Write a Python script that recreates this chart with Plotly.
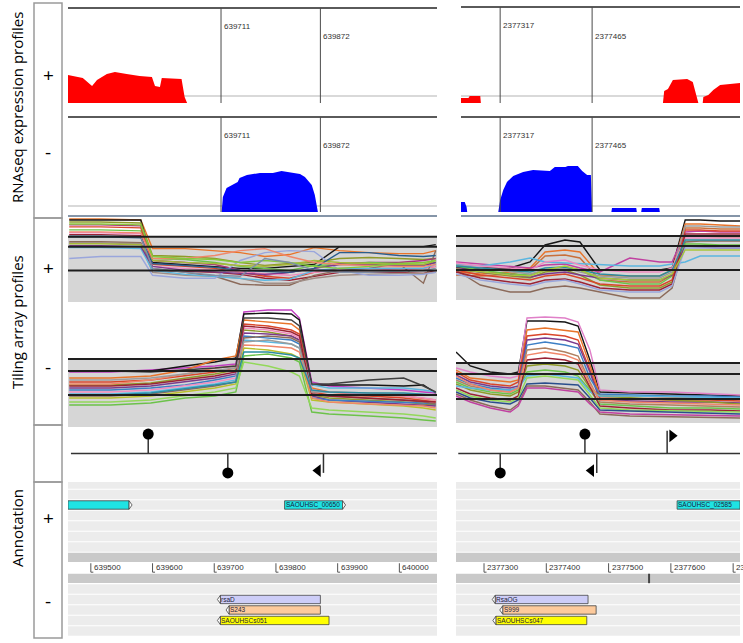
import plotly.graph_objects as go

# ======================= DATA =======================
# RNAseq coverage (reads) -- left locus (639463-640061)
rna_plus_left_x = [639463, 639487, 639502, 639510, 639526, 639539, 639558, 639579, 639599, 639604,
                   639612, 639615, 639647, 639652, 639656]
rna_plus_left_y = [280, 250, 170, 230, 290, 310, 290, 270, 260, 170, 160, 250, 240, 60, 0]
rna_minus_left_x = [639712, 639714, 639720, 639730, 639738, 639741, 639753, 639774, 639795, 639809,
                    639818, 639839, 639847, 639858, 639863, 639868]
rna_minus_left_y = [0, 150, 240, 270, 300, 340, 370, 390, 390, 410, 400, 380, 350, 270, 170, 0]
# RNAseq coverage -- right locus
rna_plus_right_x = [2377254, 2377266, 2377268, 2377285, 2377286, 2377579, 2377581, 2377587, 2377595,
                    2377618, 2377627, 2377634, 2377636, 2377643, 2377644, 2377652, 2377660, 2377671,
                    2377687, 2377695, 2377703]
rna_plus_right_y = [50, 50, 70, 70, 0, 0, 120, 140, 230, 240, 210, 60, 0, 0, 60, 80, 130, 180, 190, 200, 200]
rna_minus_right_x = [2377254, 2377260, 2377263, 2377264, 2377314, 2377317, 2377322, 2377328, 2377338,
                     2377354, 2377370, 2377397, 2377405, 2377422, 2377426, 2377442, 2377449, 2377457,
                     2377463, 2377465, 2377496, 2377497, 2377536, 2377537, 2377544, 2377545, 2377573,
                     2377574]
rna_minus_right_y = [100, 100, 50, 0, 0, 120, 220, 300, 360, 400, 420, 410, 450, 450, 460, 460, 410, 370,
                     370, 0, 0, 40, 40, 0, 0, 40, 40, 0]
rna_baseline_reads = [70, 60]            # plus, minus
rna_marks_left = [639711, 639872]
rna_marks_right = [2377317, 2377465]

# Tiling array profiles (log2 intensity) -- left locus, plus strand
tl_plus_x = [639465, 639516, 639581, 639600, 639653, 639701, 639742, 639782, 639822, 639862, 639903,
             639951, 639999, 640039, 640059]
tl_plus = [
    [13.4, 13.4, 13.3, 10.4, 10.4, 10.2, 10.0, 9.6, 9.8, 10.5, 10.2, 10.0, 9.9, 9.9, 10.2],
    [13.3, 13.3, 13.3, 9.0, 8.8, 8.6, 8.4, 8.4, 8.6, 8.8, 10.6, 10.6, 10.6, 10.6, 10.8],
    [13.1, 13.1, 13.0, 9.7, 9.6, 9.4, 9.0, 8.7, 8.9, 9.0, 9.4, 9.5, 9.4, 9.3, 9.4],
    [12.8, 12.8, 12.7, 9.2, 9.0, 8.8, 8.2, 7.7, 8.0, 8.4, 8.9, 9.0, 9.0, 9.2, 9.4],
    [12.3, 12.3, 12.2, 9.4, 9.3, 9.0, 8.6, 8.4, 8.2, 8.7, 8.8, 9.0, 8.9, 8.8, 9.0],
    [12.6, 12.6, 12.5, 8.8, 8.6, 8.4, 8.0, 7.6, 7.4, 8.0, 8.4, 8.4, 8.4, 8.4, 8.6],
    [12.0, 12.0, 11.9, 8.6, 8.4, 8.2, 8.1, 7.9, 7.7, 8.0, 8.2, 8.4, 8.2, 8.4, 8.6],
    [11.8, 11.8, 11.7, 8.2, 8.1, 8.0, 7.8, 7.4, 7.2, 7.6, 8.0, 8.0, 8.0, 7.9, 8.2],
    [11.1, 11.1, 11.0, 8.4, 8.0, 7.6, 6.8, 6.7, 6.7, 7.7, 8.2, 8.4, 8.9, 6.9, 10.2],
    [11.0, 11.0, 10.9, 8.0, 7.7, 7.6, 7.4, 6.9, 6.9, 7.4, 7.7, 7.8, 7.9, 7.9, 8.0],
    [10.5, 10.5, 10.4, 8.2, 7.8, 7.6, 7.4, 7.2, 7.3, 8.2, 8.4, 8.4, 8.4, 8.4, 8.8],
    [9.4, 9.6, 9.6, 7.7, 7.4, 7.4, 9.2, 10.0, 10.2, 10.1, 8.2, 7.7, 7.7, 7.8, 8.0],
    [10.7, 10.7, 10.6, 8.6, 8.2, 8.0, 7.9, 7.8, 8.0, 8.4, 8.8, 8.8, 8.7, 8.7, 9.0],
    [10.9, 10.9, 10.8, 9.2, 9.0, 8.9, 8.7, 8.6, 8.8, 9.2, 9.0, 8.9, 8.8, 8.8, 9.2],
    [11.6, 11.6, 11.5, 8.9, 8.7, 8.5, 8.2, 8.1, 8.0, 8.4, 10.0, 10.0, 9.7, 9.6, 9.7],
    [12.1, 12.1, 12.0, 9.4, 9.4, 9.7, 10.2, 10.4, 9.6, 9.0, 8.8, 8.7, 8.6, 8.6, 8.8],
    [12.9, 12.9, 12.8, 9.6, 9.4, 9.3, 9.0, 9.2, 9.0, 8.6, 8.4, 8.6, 8.9, 9.0, 9.2],
    [11.7, 11.7, 11.6, 8.4, 8.0, 7.7, 7.6, 9.4, 9.0, 8.2, 8.0, 8.0, 8.1, 8.2, 8.4],
]
tl_plus_thr = [11.6, 10.6, 8.2]

# left locus, minus strand
tl_minus_x = [639465, 639532, 639597, 639653, 639701, 639735, 639748, 639787, 639825, 639838, 639858,
              639886, 639951, 640007, 640039, 640059]
tl_minus = [
    [10.5, 10.5, 10.7, 10.9, 11.1, 11.3, 16.5, 16.7, 16.7, 15.9, 9.5, 9.1, 8.9, 8.7, 8.5, 8.4],
    [10.6, 10.6, 10.6, 11.1, 11.5, 11.9, 16.3, 16.4, 16.3, 15.7, 9.2, 9.2, 9.2, 9.1, 9.2, 8.4],
    [9.9, 9.9, 10.1, 10.7, 11.7, 12.1, 15.7, 15.5, 15.3, 14.7, 8.9, 8.5, 8.2, 8.1, 7.9, 7.7],
    [9.5, 9.5, 9.7, 10.1, 10.5, 10.9, 15.3, 15.1, 14.7, 14.3, 8.5, 8.2, 8.1, 7.9, 7.7, 7.5],
    [9.2, 9.2, 9.4, 9.9, 10.3, 10.7, 14.7, 14.5, 14.1, 13.7, 8.2, 7.9, 7.7, 7.5, 7.3, 7.2],
    [8.9, 8.9, 9.1, 9.5, 9.9, 10.3, 14.4, 14.3, 14.1, 13.7, 8.1, 7.7, 7.5, 7.3, 7.2, 7.1],
    [8.7, 8.7, 8.9, 9.2, 9.7, 10.1, 14.1, 13.9, 13.7, 13.3, 7.9, 7.7, 7.6, 7.5, 7.4, 7.3],
    [8.5, 8.5, 8.7, 9.1, 9.5, 9.9, 14.9, 14.7, 14.3, 13.9, 8.7, 8.5, 8.3, 8.1, 7.9, 7.7],
    [8.3, 8.3, 8.5, 8.9, 9.3, 9.7, 13.7, 13.5, 13.3, 12.9, 9.2, 8.9, 8.9, 8.9, 8.7, 8.5],
    [8.1, 8.1, 8.3, 8.7, 9.1, 9.5, 13.9, 14.1, 13.9, 13.5, 8.3, 8.1, 7.9, 7.7, 7.5, 7.3],
    [7.9, 7.9, 8.1, 8.5, 8.9, 9.3, 12.9, 12.7, 12.3, 11.9, 7.7, 7.5, 7.3, 7.1, 6.9, 6.7],
    [7.2, 7.2, 7.4, 7.9, 8.1, 8.5, 12.1, 12.3, 11.9, 11.5, 6.5, 6.3, 6.1, 5.9, 5.7, 5.6],
    [7.5, 7.5, 7.7, 8.1, 8.5, 8.9, 11.5, 11.1, 10.5, 10.1, 6.9, 6.7, 6.5, 6.3, 6.1, 5.9],
    [9.3, 9.3, 9.7, 10.3, 10.9, 11.1, 13.2, 13.1, 12.9, 12.5, 7.9, 7.5, 7.3, 7.2, 7.1, 6.9],
    [9.1, 9.1, 9.3, 9.7, 10.1, 10.5, 15.1, 14.9, 14.5, 14.1, 8.3, 8.1, 7.9, 7.7, 7.6, 7.5],
    [9.7, 9.7, 9.9, 10.3, 10.7, 10.9, 13.5, 13.7, 13.3, 12.9, 8.5, 8.5, 8.4, 8.3, 8.3, 8.2],
    [10.6, 10.6, 10.5, 10.7, 10.9, 11.1, 15.9, 15.9, 15.7, 15.1, 9.3, 9.3, 9.7, 9.9, 9.1, 8.5],
    [8.2, 8.2, 8.4, 8.8, 9.2, 9.5, 12.5, 12.5, 12.2, 11.9, 8.7, 8.5, 8.4, 8.4, 8.3, 8.2],
]
tl_minus_thr = [11.8, 10.6, 8.2]

# right locus, plus strand
tr_plus_x = [2377255, 2377294, 2377342, 2377374, 2377398, 2377430, 2377454, 2377486, 2377534, 2377582,
             2377602, 2377623, 2377647, 2377679, 2377711]
tr_plus = [
    [8.2, 8.2, 8.2, 8.8, 10.5, 11.0, 10.8, 8.0, 8.0, 8.0, 8.2, 13.0, 13.0, 12.9, 12.9],
    [7.8, 7.6, 7.8, 8.2, 9.8, 10.0, 9.8, 7.5, 7.4, 7.4, 8.0, 12.6, 12.6, 12.5, 12.4],
    [7.5, 7.4, 7.6, 8.0, 9.4, 9.5, 9.2, 7.0, 6.8, 6.8, 7.5, 12.2, 12.2, 12.1, 12.1],
    [8.8, 8.6, 8.4, 8.2, 8.5, 8.6, 8.2, 7.8, 9.2, 8.8, 8.8, 11.8, 11.9, 11.8, 11.8],
    [8.6, 8.4, 8.8, 9.2, 8.8, 8.7, 8.6, 8.5, 8.4, 8.4, 8.6, 8.8, 9.4, 9.4, 9.4],
    [8.0, 7.8, 7.4, 7.2, 7.8, 8.0, 7.5, 6.5, 6.2, 6.2, 6.8, 11.4, 11.4, 11.3, 11.3],
    [8.0, 6.5, 5.8, 5.8, 6.2, 6.4, 6.2, 5.8, 5.2, 5.2, 6.2, 10.8, 10.9, 10.9, 10.9],
    [8.4, 8.0, 7.6, 7.5, 8.0, 8.2, 8.0, 7.0, 6.6, 6.6, 7.4, 10.6, 10.6, 10.5, 10.5],
    [8.2, 7.8, 7.5, 7.3, 7.6, 7.8, 7.5, 7.2, 7.0, 7.0, 7.5, 10.4, 10.3, 10.2, 10.2],
    [8.0, 7.5, 7.2, 7.0, 7.4, 7.6, 7.2, 6.6, 6.4, 6.4, 7.0, 12.0, 12.0, 11.9, 11.9],
    [8.5, 8.2, 7.8, 7.6, 8.0, 8.2, 7.8, 7.4, 7.2, 7.2, 7.8, 12.4, 12.4, 12.3, 12.3],
    [8.7, 8.4, 8.2, 8.0, 8.8, 9.0, 8.5, 8.0, 7.8, 7.8, 8.2, 11.2, 11.2, 11.2, 11.2],
    [7.8, 7.2, 6.8, 6.6, 7.0, 7.1, 6.8, 6.2, 6.0, 6.0, 6.6, 11.6, 11.6, 11.6, 11.6],
    [8.4, 8.2, 8.0, 7.8, 8.2, 8.3, 8.0, 7.6, 7.4, 7.4, 8.0, 11.0, 11.0, 11.0, 11.0],
    [7.6, 7.0, 6.6, 6.4, 6.8, 7.0, 6.6, 6.0, 5.8, 5.8, 6.4, 10.2, 10.2, 10.2, 10.2],
    [8.1, 7.8, 7.5, 7.4, 8.0, 8.4, 8.0, 7.2, 7.0, 7.0, 7.6, 10.0, 10.0, 10.0, 10.0],
]
tr_plus_thr = [11.4, 10.4, 8.0]

# right locus, minus strand
tr_minus_x = [2377255, 2377278, 2377310, 2377342, 2377355, 2377369, 2377398, 2377430, 2377451, 2377470,
              2377486, 2377534, 2377599, 2377663, 2377711]
tr_minus = [
    [12.1, 10.7, 10.1, 9.9, 10.1, 15.2, 15.2, 15.1, 14.7, 11.3, 8.1, 8.0, 7.9, 7.8, 7.7],
    [10.5, 10.1, 9.7, 9.5, 9.7, 15.5, 15.6, 15.5, 15.1, 12.3, 8.3, 8.1, 8.1, 7.9, 7.8],
    [10.3, 9.5, 9.3, 9.1, 9.3, 14.3, 14.5, 14.3, 14.1, 10.8, 7.8, 7.7, 7.6, 7.5, 7.4],
    [10.1, 9.3, 8.9, 8.7, 9.1, 13.7, 13.9, 13.7, 13.3, 10.3, 7.5, 7.4, 7.3, 7.3, 7.2],
    [9.8, 9.1, 8.7, 8.5, 8.7, 13.3, 13.5, 13.3, 12.9, 10.1, 7.3, 7.2, 7.1, 7.1, 7.0],
    [9.5, 8.9, 8.5, 8.3, 8.5, 12.8, 13.1, 12.8, 12.5, 9.5, 7.9, 7.8, 7.7, 7.7, 7.6],
    [9.3, 8.7, 8.3, 8.1, 8.5, 12.3, 12.5, 12.1, 11.7, 9.1, 7.1, 6.9, 6.8, 6.7, 6.6],
    [9.1, 8.5, 8.1, 7.9, 8.3, 10.1, 10.3, 10.1, 9.7, 8.3, 6.9, 6.7, 6.5, 6.5, 6.4],
    [8.9, 8.3, 7.9, 7.7, 8.1, 10.7, 10.9, 10.7, 10.3, 8.5, 7.7, 7.5, 7.3, 7.1, 6.9],
    [8.7, 8.5, 8.3, 8.3, 8.5, 9.7, 9.9, 9.7, 9.5, 8.1, 7.7, 7.7, 7.6, 7.5, 7.5],
    [8.5, 7.9, 7.5, 7.3, 7.7, 11.3, 11.5, 11.3, 10.9, 8.7, 6.7, 6.5, 6.3, 6.3, 6.2],
    [8.3, 7.7, 7.3, 7.1, 7.5, 9.5, 9.7, 9.5, 9.3, 7.8, 6.5, 6.3, 6.2, 6.1, 6.1],
    [9.7, 8.9, 8.3, 8.1, 8.5, 11.8, 12.1, 11.8, 11.3, 8.9, 7.3, 7.1, 7.0, 6.9, 6.8],
    [8.1, 7.5, 7.1, 6.9, 7.3, 8.9, 9.0, 8.9, 8.8, 7.5, 6.3, 6.2, 6.1, 6.0, 5.9],
    [7.9, 7.3, 6.7, 6.3, 6.9, 8.7, 8.7, 8.5, 8.3, 7.1, 5.9, 5.7, 5.6, 5.5, 5.5],
    [7.7, 7.1, 6.5, 6.1, 6.7, 8.5, 8.5, 8.3, 8.1, 6.9, 6.1, 5.9, 5.8, 5.7, 5.7],
]
tr_minus_thr = [11.0, 9.9, 7.4]

# Regulatory features (position, strand, kind)
feat_left_pos = [639593, 639722, 639877]
feat_left_strand = [1, -1, -1]
feat_left_kind = ["circle", "circle", "triangle"]
feat_right_pos = [2377326, 2377462, 2377481, 2377594]
feat_right_strand = [-1, 1, -1, 1]
feat_right_kind = ["circle", "circle", "triangle", "flag"]

# Annotated genes
genes_left_name = ["", "SAOUHSC_00650", "rsaD", "S243", "SAOUHSCs051"]
genes_left_start = [639380, 639814, 639710, 639724, 639710]
genes_left_end = [639562, 639908, 639872, 639872, 639886]
genes_left_strand = ["+", "+", "-", "-", "-"]
genes_left_track = [2, 2, 11, 12, 13]
genes_left_source = ["cds", "cds", "srna", "segment", "ncrna"]

genes_right_name = ["SAOUHSC_02585", "RsaOG", "S999", "SAOUHSCs047"]
genes_right_start = [2377610, 2377318, 2377330, 2377319]
genes_right_end = [2377800, 2377467, 2377480, 2377465]
genes_right_strand = ["+", "-", "-", "-"]
genes_right_track = [2, 11, 12, 13]
genes_right_source = ["cds", "srna", "segment", "ncrna"]

ticks_left = [639500, 639600, 639700, 639800, 639900, 640000]
ticks_right = [2377300, 2377400, 2377500, 2377600, 2377700]
scale_marks_right = [2377565]

plus_tracks = [0, 1, 2, 3, 4, 5, 6]
minus_tracks = [10, 11, 12, 13, 14]
divider_tracks = [7, 9]
ruler_track = 8

# ======================= STYLE =======================
W, H = 743, 643
SOURCE_COLORS = {"cds": "#1fe3e3", "srna": "#cdcdf7", "segment": "#fdca9c", "ncrna": "#ffff00"}
TL_PLUS_COLORS = ["#e8742a", "#151515", "#8f9a2a", "#a8327a", "#6cc24a", "#d9462b", "#f08cc0", "#9b2335",
                  "#8b6a5a", "#a08e86", "#5bb6e0", "#9aa6dc", "#7b3a8c", "#a6b83a", "#2b5e8c", "#f0876a",
                  "#86c83c", "#7f8fa6"]
TL_MINUS_COLORS = ["#c040c0", "#151515", "#e8742a", "#d9462b", "#8f9a2a", "#7b3a8c", "#3d7fc4", "#f08cc0",
                   "#5bb6e0", "#8b6a5a", "#b8c02a", "#6cc24a", "#93d85a", "#f0876a", "#9b2335", "#9c9c9c",
                   "#404040", "#2b8ca0"]
TR_PLUS_COLORS = ["#151515", "#e8742a", "#c8703a", "#c040a0", "#5bb6e0", "#8f9a2a", "#8b6a5a", "#6cc24a",
                  "#7b3a8c", "#d9462b", "#9c9c9c", "#f08cc0", "#9b2335", "#2b8ca0", "#9aa6dc", "#a6c83a"]
TR_MINUS_COLORS = ["#151515", "#e080c8", "#e8742a", "#d9462b", "#7b3a8c", "#3d7fc4", "#b08060", "#6cc24a",
                   "#8f9a2a", "#5bb6e0", "#9b2335", "#93d85a", "#f0876a", "#2b4e8c", "#8b6a5a", "#c040a0"]


def xp(px):
    return px / W


def yp(px):
    return 1 - px / H


LEFT_X = [639463, 640061]
RIGHT_X = [2377255, 2377711]
RIGHT_RNA_X = [2377254, 2377703]
TRACK_RANGE = [14.67, -0.19]

AX = {
    1: dict(xd=(68, 437), yd=(8, 103), xr=LEFT_X, yr=[0, 950]),
    2: dict(xd=(68, 437), yd=(117, 212), xr=LEFT_X, yr=[0, 950]),
    3: dict(xd=(68, 437), yd=(218, 302), xr=LEFT_X, yr=[5, 13.5]),
    4: dict(xd=(68, 437), yd=(303, 427), xr=LEFT_X, yr=[5, 17.4]),
    5: dict(xd=(68, 437), yd=(425, 482), xr=LEFT_X, yr=[-1, 1]),
    6: dict(xd=(68, 437), yd=(482, 638), xr=LEFT_X, yr=TRACK_RANGE),
    7: dict(xd=(461, 740), yd=(7, 103), xr=RIGHT_RNA_X, yr=[0, 960]),
    8: dict(xd=(461, 740), yd=(117, 212), xr=RIGHT_RNA_X, yr=[0, 950]),
    9: dict(xd=(456, 740), yd=(218, 300), xr=RIGHT_X, yr=[5, 13.2]),
    10: dict(xd=(456, 740), yd=(310, 423), xr=RIGHT_X, yr=[5, 16.3]),
    11: dict(xd=(456, 740), yd=(425, 482), xr=RIGHT_X, yr=[-1, 1]),
    12: dict(xd=(456, 740), yd=(482, 638), xr=RIGHT_X, yr=TRACK_RANGE),
}


def xa(i):
    return "x" if i == 1 else f"x{i}"


def ya(i):
    return "y" if i == 1 else f"y{i}"


fig = go.Figure()
shapes = []
annots = []
layout_axes = {}
for i, a in AX.items():
    layout_axes["xaxis" if i == 1 else f"xaxis{i}"] = dict(
        domain=[xp(a["xd"][0]), xp(a["xd"][1])], range=a["xr"], visible=False,
        anchor=ya(i), fixedrange=True, showgrid=False, zeroline=False)
    layout_axes["yaxis" if i == 1 else f"yaxis{i}"] = dict(
        domain=[yp(a["yd"][1]), yp(a["yd"][0])], range=a["yr"], visible=False,
        anchor=xa(i), fixedrange=True, showgrid=False, zeroline=False)

SMALL = dict(family="Liberation Sans, Arial", size=8, color="#333333")


# ---------- RNAseq ----------
def rna_panel(i, xs, ys, color, baseline, marks):
    shapes.append(dict(type="line", xref=f"{xa(i)} domain", yref=ya(i), x0=0, x1=1, y0=baseline, y1=baseline,
                       line=dict(color="#b4b4b4", width=1.2), layer="below"))
    fig.add_trace(go.Scatter(x=xs, y=ys, mode="lines", fill="tozeroy", fillcolor=color,
                             line=dict(color=color, width=0), xaxis=xa(i), yaxis=ya(i),
                             hoverinfo="skip", showlegend=False))
    shapes.append(dict(type="line", xref=f"{xa(i)} domain", yref=f"{ya(i)} domain", x0=0, x1=1, y0=1, y1=1,
                       line=dict(color="#5a5a5a", width=2)))
    fracs = [0.81, 0.695]
    for m, f in zip(marks, fracs):
        shapes.append(dict(type="line", xref=xa(i), yref=f"{ya(i)} domain", x0=m, x1=m, y0=0, y1=1,
                           line=dict(color="#4a4a4a", width=1)))
        annots.append(dict(x=m, y=f, xref=xa(i), yref=f"{ya(i)} domain", text=str(m), showarrow=False,
                           xanchor="left", yanchor="middle", xshift=1, font=SMALL))


rna_panel(1, rna_plus_left_x, rna_plus_left_y, "#ff0000", rna_baseline_reads[0], rna_marks_left)
rna_panel(2, rna_minus_left_x, rna_minus_left_y, "#0000ff", rna_baseline_reads[1], rna_marks_left)
rna_panel(7, rna_plus_right_x, rna_plus_right_y, "#ff0000", rna_baseline_reads[0], rna_marks_right)
rna_panel(8, rna_minus_right_x, rna_minus_right_y, "#0000ff", rna_baseline_reads[1], rna_marks_right)
for i in (2, 8):
    shapes.append(dict(type="line", xref=f"{xa(i)} domain", yref="paper", x0=0, x1=1,
                       y0=yp(216), y1=yp(216), line=dict(color="#8595a8", width=2)))


# ---------- Tiling arrays ----------
def tiling_panel(i, xs, series, thr, colors):
    shapes.append(dict(type="rect", xref=f"{xa(i)} domain", yref=ya(i), x0=0, x1=1,
                       y0=AX[i]["yr"][0], y1=max(thr), fillcolor="#d6d6d6", line=dict(width=0),
                       layer="below"))
    for k, s in enumerate(series):
        fig.add_trace(go.Scatter(x=xs, y=s, mode="lines", line=dict(color=colors[k % len(colors)], width=1.4),
                                 xaxis=xa(i), yaxis=ya(i), hoverinfo="skip", showlegend=False))
    for t in thr:
        shapes.append(dict(type="line", xref=f"{xa(i)} domain", yref=ya(i), x0=0, x1=1, y0=t, y1=t,
                           line=dict(color="#1e1e1e", width=2)))


tiling_panel(3, tl_plus_x, tl_plus, tl_plus_thr, TL_PLUS_COLORS)
tiling_panel(4, tl_minus_x, tl_minus, tl_minus_thr, TL_MINUS_COLORS)
tiling_panel(9, tr_plus_x, tr_plus, tr_plus_thr, TR_PLUS_COLORS)
tiling_panel(10, tr_minus_x, tr_minus, tr_minus_thr, TR_MINUS_COLORS)


# ---------- Features row ----------
def feature_panel(i, pos, strand, kind, bp_px):
    shapes.append(dict(type="line", xref=f"{xa(i)} domain", yref=ya(i), x0=0.008, x1=1, y0=0, y1=0,
                       line=dict(color="#333333", width=1.5)))
    sx, sy = [], []
    for p, s, k in zip(pos, strand, kind):
        top = 0.8 if k == "flag" else 0.68
        sx += [p, p, None]
        sy += [0, s * top, None]
    fig.add_trace(go.Scatter(x=sx, y=sy, mode="lines", line=dict(color="#333333", width=1.5),
                             xaxis=xa(i), yaxis=ya(i), hoverinfo="skip", showlegend=False))
    mx, my, msym = [], [], []
    for p, s, k in zip(pos, strand, kind):
        if k == "circle":
            mx.append(p); my.append(s * 0.68); msym.append("circle")
        elif k == "triangle":
            mx.append(p - 5.5 * bp_px); my.append(s * 0.6); msym.append("triangle-left")
        else:
            mx.append(p + 5 * bp_px); my.append(s * 0.62); msym.append("triangle-right")
    fig.add_trace(go.Scatter(x=mx, y=my, mode="markers",
                             marker=dict(symbol=msym, size=11, color="#000000", line=dict(width=0)),
                             xaxis=xa(i), yaxis=ya(i), hoverinfo="skip", showlegend=False))


feature_panel(5, feat_left_pos, feat_left_strand, feat_left_kind, 1.62)
feature_panel(11, feat_right_pos, feat_right_strand, feat_right_kind, 1.605)


# ---------- Annotation tracks ----------
def annotation_panel(i, names, starts, ends, strands, tracks, sources, ticks, bp_px, marks=()):
    xr = AX[i]["xr"]
    dref = f"{xa(i)} domain"
    for r in plus_tracks + minus_tracks:
        shapes.append(dict(type="rect", xref=dref, yref=ya(i), x0=0, x1=1, y0=r - 0.45, y1=r + 0.45,
                           fillcolor="#ececec", line=dict(width=0), layer="below"))
    for r in divider_tracks:
        shapes.append(dict(type="rect", xref=dref, yref=ya(i), x0=0, x1=1, y0=r - 0.45, y1=r + 0.42,
                           fillcolor="#c9c9c9", line=dict(width=0), layer="below"))
    for m in marks:
        shapes.append(dict(type="line", xref=xa(i), yref=ya(i), x0=m, x1=m, y0=8.55, y1=9.45,
                           line=dict(color="#444444", width=2)))
    tip = 3 * bp_px
    h = 0.4
    for n, s, e, st, r, src in zip(names, starts, ends, strands, tracks, sources):
        s0, e0 = max(s, xr[0]), min(e, xr[1])
        shapes.append(dict(type="rect", xref=xa(i), yref=ya(i), x0=s0, x1=e0, y0=r - h, y1=r + h,
                           fillcolor=SOURCE_COLORS[src], line=dict(color="#444444", width=0.8)))
        if st == "+" and e < xr[1]:
            path = f"M {e},{r - h} L {e + tip},{r} L {e},{r + h} Z"
            shapes.append(dict(type="path", xref=xa(i), yref=ya(i), path=path, fillcolor="#ffffff",
                               line=dict(color="#444444", width=0.8)))
        if st == "-" and s > xr[0]:
            path = f"M {s},{r - h} L {s - tip},{r} L {s},{r + h} Z"
            shapes.append(dict(type="path", xref=xa(i), yref=ya(i), path=path, fillcolor="#ffffff",
                               line=dict(color="#444444", width=0.8)))
        if n and s >= xr[0]:
            annots.append(dict(x=s, y=r, xref=xa(i), yref=ya(i), text=n, showarrow=False, xanchor="left",
                               yanchor="middle", xshift=-1,
                               font=dict(family="Liberation Sans, Arial", size=6.5, color="#1c1c3c")))
    for t in ticks:
        shapes.append(dict(type="line", xref=xa(i), yref=ya(i), x0=t, x1=t, y0=ruler_track - 0.45,
                           y1=ruler_track + 0.4, line=dict(color="#555555", width=1)))
        shapes.append(dict(type="line", xref=xa(i), yref=ya(i), x0=t, x1=t + 2.5 * bp_px,
                           y0=ruler_track + 0.4, y1=ruler_track + 0.4, line=dict(color="#555555", width=1)))
        annots.append(dict(x=t, y=ruler_track, xref=xa(i), yref=ya(i), text=str(t), showarrow=False,
                           xanchor="left", yanchor="middle", xshift=1, font=SMALL))


annotation_panel(6, genes_left_name, genes_left_start, genes_left_end, genes_left_strand,
                 genes_left_track, genes_left_source, ticks_left, 1.62)
annotation_panel(12, genes_right_name, genes_right_start, genes_right_end, genes_right_strand,
                 genes_right_track, genes_right_source, ticks_right, 1.605, scale_marks_right)

# ---------- Left label column ----------
for top, bot in [(3, 218), (218, 425), (425, 482), (482, 638)]:
    shapes.append(dict(type="rect", xref="paper", yref="paper", x0=xp(34), x1=xp(62), y0=yp(bot), y1=yp(top),
                       line=dict(color="#9a9a9a", width=1.5), fillcolor="rgba(0,0,0,0)"))

TITLE_FONT = dict(family="Open Sans, Noto Sans, sans-serif", size=15, color="#000000")
for text, ypx in [("RNAseq expression profiles", 108), ("Tiling array profiles", 322), ("Annotation", 528)]:
    annots.append(dict(x=xp(17), y=yp(ypx), xref="paper", yref="paper", text=text, textangle=-90,
                       showarrow=False, xanchor="center", yanchor="middle", font=TITLE_FONT))

SIGN_FONT = dict(family="Open Sans, Noto Sans, sans-serif", size=19, color="#000000")
for text, ypx in [("+", 75), ("-", 152), ("+", 268), ("-", 367), ("+", 518), ("-", 601)]:
    annots.append(dict(x=xp(48), y=yp(ypx), xref="paper", yref="paper", text=text, showarrow=False,
                       xanchor="center", yanchor="middle", font=SIGN_FONT))

fig.update_layout(
    width=W, height=H, margin=dict(l=0, r=0, t=0, b=0),
    paper_bgcolor="#ffffff", plot_bgcolor="rgba(0,0,0,0)",
    showlegend=False, hovermode=False,
    shapes=shapes, annotations=annots,
    **layout_axes,
)

fig.write_html("out.html", config={"displayModeBar": False},
               post_script="document.body.style.margin='0px';document.body.style.overflow='hidden';")
